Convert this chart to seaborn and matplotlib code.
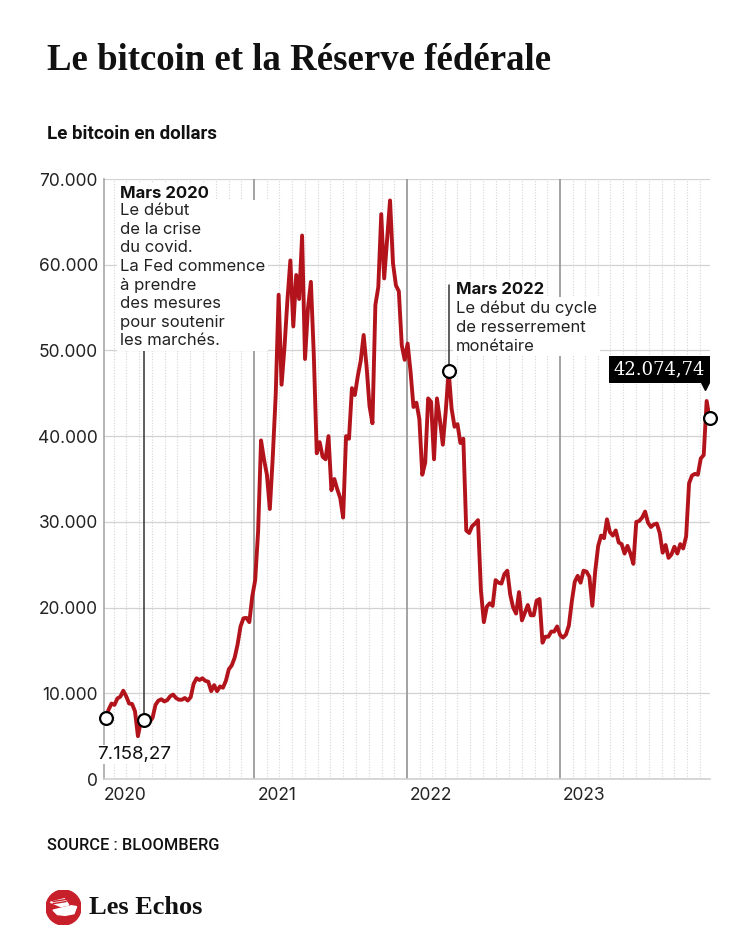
import matplotlib
matplotlib.use("Agg")
import pandas as pd
import matplotlib.pyplot as plt
import matplotlib.dates as mdates
import matplotlib.transforms as mtransforms
from matplotlib.patches import Circle, Polygon
from matplotlib.ticker import FuncFormatter
import seaborn as sns

# weekly bitcoin price (USD); first point on the chart's time axis
start_date = "2020-01-12"
btc_2020 = [7158.27, 8100, 8800, 8650, 9400, 9600, 10300, 9650, 8800, 8750, 7900, 5000, 6700,
            6900, 7300, 6650, 7150, 8650, 9150, 9300, 9050, 9200, 9650, 9850, 9450, 9250, 9250,
            9450, 9150, 9550, 11100, 11750, 11550, 11750, 11450, 11350, 10250, 10950, 10250,
            10800, 10650, 11450, 12800, 13250, 14150, 15700, 17800, 18750, 18800, 18300, 21300,
            23200, 28900]
btc_2021 = [39500, 37300, 35500, 31500, 37600, 44800, 56500, 46000, 50400, 55900, 60500, 52800,
            58800, 56000, 63400, 49000, 54900, 58000, 49400, 38000, 39300, 37600, 37300, 40000,
            33700, 35000, 33800, 32800, 30500, 40000, 39700, 45600, 44800, 47000, 48800, 51800,
            48100, 43500, 41500, 55300, 57400, 65900, 58400, 62900, 67500, 60200, 57600, 56900,
            50600, 48900, 50800, 47500]
btc_2022 = [43400, 43900, 42000, 35500, 36900, 44400, 44000, 37300, 44400, 41900, 39000, 42900,
            47600, 43200, 41100, 41400, 39200, 39700, 29000, 28700, 29500, 29800, 30200, 22000,
            18300, 20100, 20500, 20200, 23200, 22900, 22800, 23900, 24300, 21500, 20000, 19300,
            21800, 18500, 19400, 20300, 19100, 19100, 20800, 21000, 15900, 16600, 16600, 17200,
            17200, 17800, 16800, 16500]
btc_2023 = [16850, 17900, 20700, 23000, 23700, 22900, 24300, 24200, 23600, 20200, 24300, 27200,
            28400, 28100, 30300, 28800, 28400, 29000, 27600, 27400, 26300, 27200, 26300, 25100,
            30000, 30100, 30500, 31200, 29900, 29400, 29700, 29800, 28700, 26400, 27300, 25800,
            26200, 27100, 26300, 27400, 26900, 28300, 34500, 35400, 35600, 35500, 37400, 37800,
            44100, 42074.74]

y_ticks = [0, 10000, 20000, 30000, 40000, 50000, 60000, 70000]
years = [2020, 2021, 2022, 2023]

# points with a circle marker: first value, Mars 2020, Mars 2022, last value
marker_idx = [0, 13, 117, len(btc_2020 + btc_2021 + btc_2022 + btc_2023) - 1]

note_2020_title = "Mars 2020"
note_2020_body = ("Le début\nde la crise\ndu covid.\nLa Fed commence\nà prendre\n"
                  "des mesures\npour soutenir\nles marchés.")
note_2022_title = "Mars 2022"
note_2022_body = "Le début du cycle\nde resserrement\nmonétaire"


def fr_number(v, decimals=0):
    s = f"{v:,.{decimals}f}"
    return s.replace(",", " ").replace(".", ",").replace(" ", ".")


prices = btc_2020 + btc_2021 + btc_2022 + btc_2023
df = pd.DataFrame({"date": pd.date_range(start_date, periods=len(prices), freq="7D"),
                   "price": prices})

sns.set_style("white")
plt.rcParams["font.family"] = ["Inter", "DejaVu Sans"]

red = "#b3141c"
W, H = 750, 938
fig = plt.figure(figsize=(W / 100, H / 100), dpi=100)
ax = fig.add_axes([104 / W, 1 - 779 / H, 606 / W, 600 / H])

# grid: dotted months, solid years, horizontal values
for m in pd.date_range("2020-02-01", "2023-12-01", freq="MS"):
    if m.month != 1:
        ax.axvline(m, color="#d6d6d6", lw=0.8, ls=(0, (1, 1.5)), zorder=0)
for y in years[1:]:
    ax.axvline(pd.Timestamp(f"{y}-01-01"), color="#9c9c9c", lw=1.3, zorder=1)
for t in y_ticks[1:]:
    ax.axhline(t, color="#d2d2d2", lw=0.9, zorder=0)

sns.lineplot(data=df, x="date", y="price", ax=ax, color=red, lw=2.8,
             estimator=None, zorder=3)

ax.set_xlim(pd.Timestamp("2020-01-08"), pd.Timestamp("2023-12-25"))
ax.set_ylim(0, 70000)
ax.set_yticks(y_ticks)
ax.yaxis.set_major_formatter(FuncFormatter(lambda v, p: fr_number(v)))
ax.set_xticks([])
ax.set_xlabel("")
ax.set_ylabel("")
ax.tick_params(axis="y", length=0, pad=4.5, labelsize=12.5, labelcolor="#222222")
for s in ["top", "right"]:
    ax.spines[s].set_visible(False)
ax.spines["left"].set_color("#a8a8a8")
ax.spines["left"].set_linewidth(1.2)
ax.spines["bottom"].set_color("#cfcfcf")
ax.spines["bottom"].set_linewidth(1.2)

# year labels, left aligned just after each year line
xtrans = mtransforms.offset_copy(
    mtransforms.blended_transform_factory(ax.transData, ax.transAxes), fig=fig, x=3, y=0, units="dots")
for y in years:
    ax.text(mdates.date2num(pd.Timestamp(f"{y}-01-01")), -0.027, str(y), transform=xtrans,
            ha="left", va="center", fontsize=12.5, color="#222222", clip_on=False)

# annotations
box = dict(facecolor="white", edgecolor="none", pad=2)
d0, v0 = df.iloc[marker_idx[1]]
ax.plot([d0, d0], [v0, 50000], color="#333333", lw=1.1, zorder=2)
ax.text(0.026, 0.988, note_2020_title, transform=ax.transAxes, ha="left", va="top",
        fontsize=12, fontweight="bold", color="#111111", bbox=box, zorder=4)
ax.text(0.026, 0.960, note_2020_body, transform=ax.transAxes, ha="left", va="top",
        fontsize=12, color="#222222", linespacing=1.3, bbox=box, zorder=4)

d1, v1 = df.iloc[marker_idx[2]]
ax.plot([d1, d1], [v1, 57600], color="#333333", lw=1.1, zorder=2)
ax.text(0.581, 0.828, note_2022_title, transform=ax.transAxes, ha="left", va="top",
        fontsize=12, fontweight="bold", color="#111111", bbox=box, zorder=4)
ax.text(0.581, 0.798, note_2022_body, transform=ax.transAxes, ha="left", va="top",
        fontsize=12, color="#222222", linespacing=1.33, bbox=box, zorder=4)

pts = df.iloc[marker_idx]
ax.scatter(pts["date"], pts["price"], s=85, facecolor="white", edgecolor="black",
           linewidth=1.6, zorder=6, clip_on=False)

first_d, first_v = df.iloc[0]
ax.annotate(fr_number(first_v, 2), xy=(first_d, first_v), xytext=(-6.3, -26.6),
            textcoords="offset points", ha="left", va="center", fontsize=13.5,
            color="#111111", bbox=dict(facecolor="white", edgecolor="none", pad=1), zorder=5)

last_d, last_v = df.iloc[-1]
ax.annotate(fr_number(last_v, 2), xy=(last_d, last_v), xytext=(-3.3, 35.3),
            textcoords="offset points", ha="right", va="center", fontsize=13,
            family="DejaVu Serif", color="white",
            bbox=dict(boxstyle="square,pad=0.25", facecolor="black", edgecolor="none"), zorder=5)
tri = mtransforms.offset_copy(ax.transData, fig=fig, x=-3.3, y=23, units="points")
ax.plot(mdates.date2num(last_d), last_v, marker="v", ms=6, color="black",
        transform=tri, zorder=5, clip_on=False)

# titles and footer
fig.text(47 / W, 1 - 60 / H, "Le bitcoin et la Réserve fédérale", family="Liberation Serif",
         fontweight="bold", fontsize=26.5, color="#111111", va="center", ha="left")
fig.text(47 / W, 1 - 134 / H, "Le bitcoin en dollars", family="Roboto", fontweight="bold",
         fontsize=13.5, color="#111111", va="center", ha="left")
fig.text(47 / W, 1 - 845 / H, "SOURCE : BLOOMBERG", family="Roboto", fontweight="medium",
         fontsize=11.8, color="#111111", va="center", ha="left")

lax = fig.add_axes([46 / W, 1 - 925 / H, 35 / W, 35 / H])
lax.set_xlim(-1, 1)
lax.set_ylim(-1, 1)
lax.set_aspect("equal")
lax.axis("off")
lax.add_patch(Circle((0, 0), 1, color="#c8202b"))
lax.add_patch(Polygon([(-0.75, 0.3), (0.05, 0.5), (0.3, 0.15), (-0.15, 0.05)], color="white"))
lax.add_patch(Polygon([(-0.6, -0.15), (0.45, 0.1), (0.75, 0.05), (0.6, -0.35),
                       (0.1, -0.45), (-0.35, -0.4)], color="white"))
for yy in [0.22, 0.34]:
    lax.plot([-0.6, 0.15], [yy, yy + 0.12], color="#c8202b", lw=1)
fig.text(89 / W, 1 - 907 / H, "Les Echos", family="Liberation Serif", fontweight="bold",
         fontsize=19, color="#111111", va="center", ha="left")

fig.savefig("out.png", dpi=100)
